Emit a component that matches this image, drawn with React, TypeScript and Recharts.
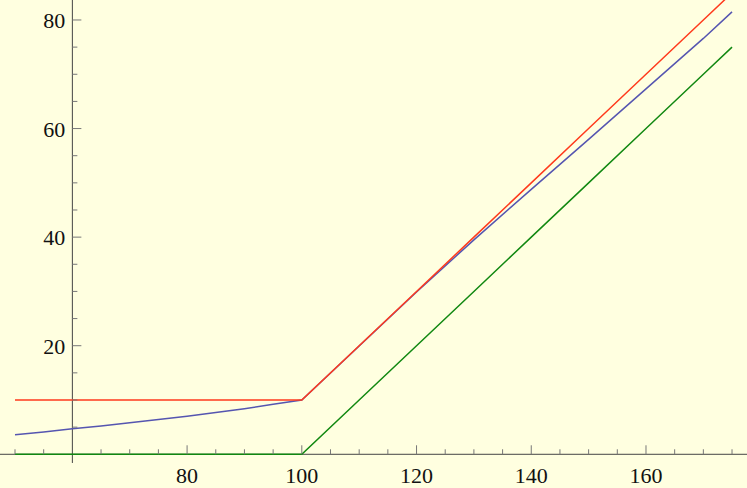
import { LineChart, Line, XAxis, YAxis, ReferenceLine, ReferenceDot } from 'recharts'

// underlying price
const spot = [50, 55, 60, 65, 70, 75, 80, 85, 90, 95, 100, 110, 120, 130, 140, 150, 160, 170, 175]
// intrinsic payoff (green)
const payoff = [0, 0, 0, 0, 0, 0, 0, 0, 0, 0, 0, 10, 20, 30, 40, 50, 60, 70, 75]
// upper bound (red)
const upperBound = [10, 10, 10, 10, 10, 10, 10, 10, 10, 10, 10, 20, 30, 40, 50, 60, 70, 80, 85]
// option value (blue)
const optionValue = [3.6, 4.1, 4.7, 5.2, 5.8, 6.4, 7.0, 7.7, 8.4, 9.2, 10, 19.95, 29.9, 39.5, 48.8, 58, 67.3, 76.6, 81.5]

const xTicks = [50, 55, 65, 70, 75, 80, 85, 90, 95, 100, 105, 110, 115, 120, 125, 130, 135, 140, 145, 150, 155, 160, 165, 170, 175]
const xLabels = [80, 100, 120, 140, 160]
const yTicks = [5, 10, 15, 20, 25, 30, 35, 40, 45, 50, 55, 60, 65, 70, 75, 80]
const yLabels = [20, 40, 60, 80]

const xDomain: [number, number] = [47.385, 177.61]
const yDomain: [number, number] = [-6.21, 83.68]
const axisCrossX = 60
const yAxisBottom = -1.6

const W = 747
const H = 488
const labelStyle = { fontFamily: "'Liberation Serif', 'Times New Roman', Times, serif", fontSize: 22 }

const data = spot.map((s, i) => ({
  s,
  payoff: payoff[i],
  upper: upperBound[i],
  value: optionValue[i],
}))

function XTick(props: any, v: number) {
  const { cx, cy } = props
  const major = xLabels.includes(v)
  return (
    <g>
      <line x1={cx} y1={cy} x2={cx} y2={cy - (major ? 9 : 5)} stroke="#777" strokeWidth={1} />
      {major && (
        <text x={cx} y={cy + 29} textAnchor="middle" style={labelStyle} fill="#111">
          {v}
        </text>
      )}
    </g>
  )
}

function YTick(props: any, v: number) {
  const { cx, cy } = props
  const major = yLabels.includes(v)
  return (
    <g>
      <line x1={cx} y1={cy} x2={cx + (major ? 9 : 5)} y2={cy} stroke="#777" strokeWidth={1} />
      {major && (
        <text x={cx - 7} y={cy + 8} textAnchor="end" style={labelStyle} fill="#111">
          {v}
        </text>
      )}
    </g>
  )
}

export default function App() {
  return (
    <div style={{ position: 'absolute', left: 0, top: 0, width: W, height: H, background: '#FFFFE0' }}>
      <LineChart width={W} height={H} data={data} margin={{ top: 0, right: 0, bottom: 0, left: 0 }}>
        <XAxis type="number" dataKey="s" domain={xDomain} allowDataOverflow hide />
        <YAxis type="number" domain={yDomain} allowDataOverflow hide />
        <ReferenceLine y={0} stroke="#444" strokeWidth={1} />
        <ReferenceLine
          segment={[{ x: axisCrossX, y: yAxisBottom }, { x: axisCrossX, y: yDomain[1] }]}
          stroke="#444"
          strokeWidth={1}
        />
        {xTicks.map((v) => (
          <ReferenceDot key={'x' + v} x={v} y={0} shape={(p: any) => XTick(p, v)} />
        ))}
        {yTicks.map((v) => (
          <ReferenceDot key={'y' + v} x={axisCrossX} y={v} shape={(p: any) => YTick(p, v)} />
        ))}
        <Line type="linear" dataKey="value" stroke="#5555b0" strokeWidth={1.5} dot={false} activeDot={false} isAnimationActive={false} />
        <Line type="linear" dataKey="upper" stroke="#ff3a1c" strokeWidth={1.5} dot={false} activeDot={false} isAnimationActive={false} />
        <Line type="linear" dataKey="payoff" stroke="#118811" strokeWidth={1.5} dot={false} activeDot={false} isAnimationActive={false} />
      </LineChart>
    </div>
  )
}
